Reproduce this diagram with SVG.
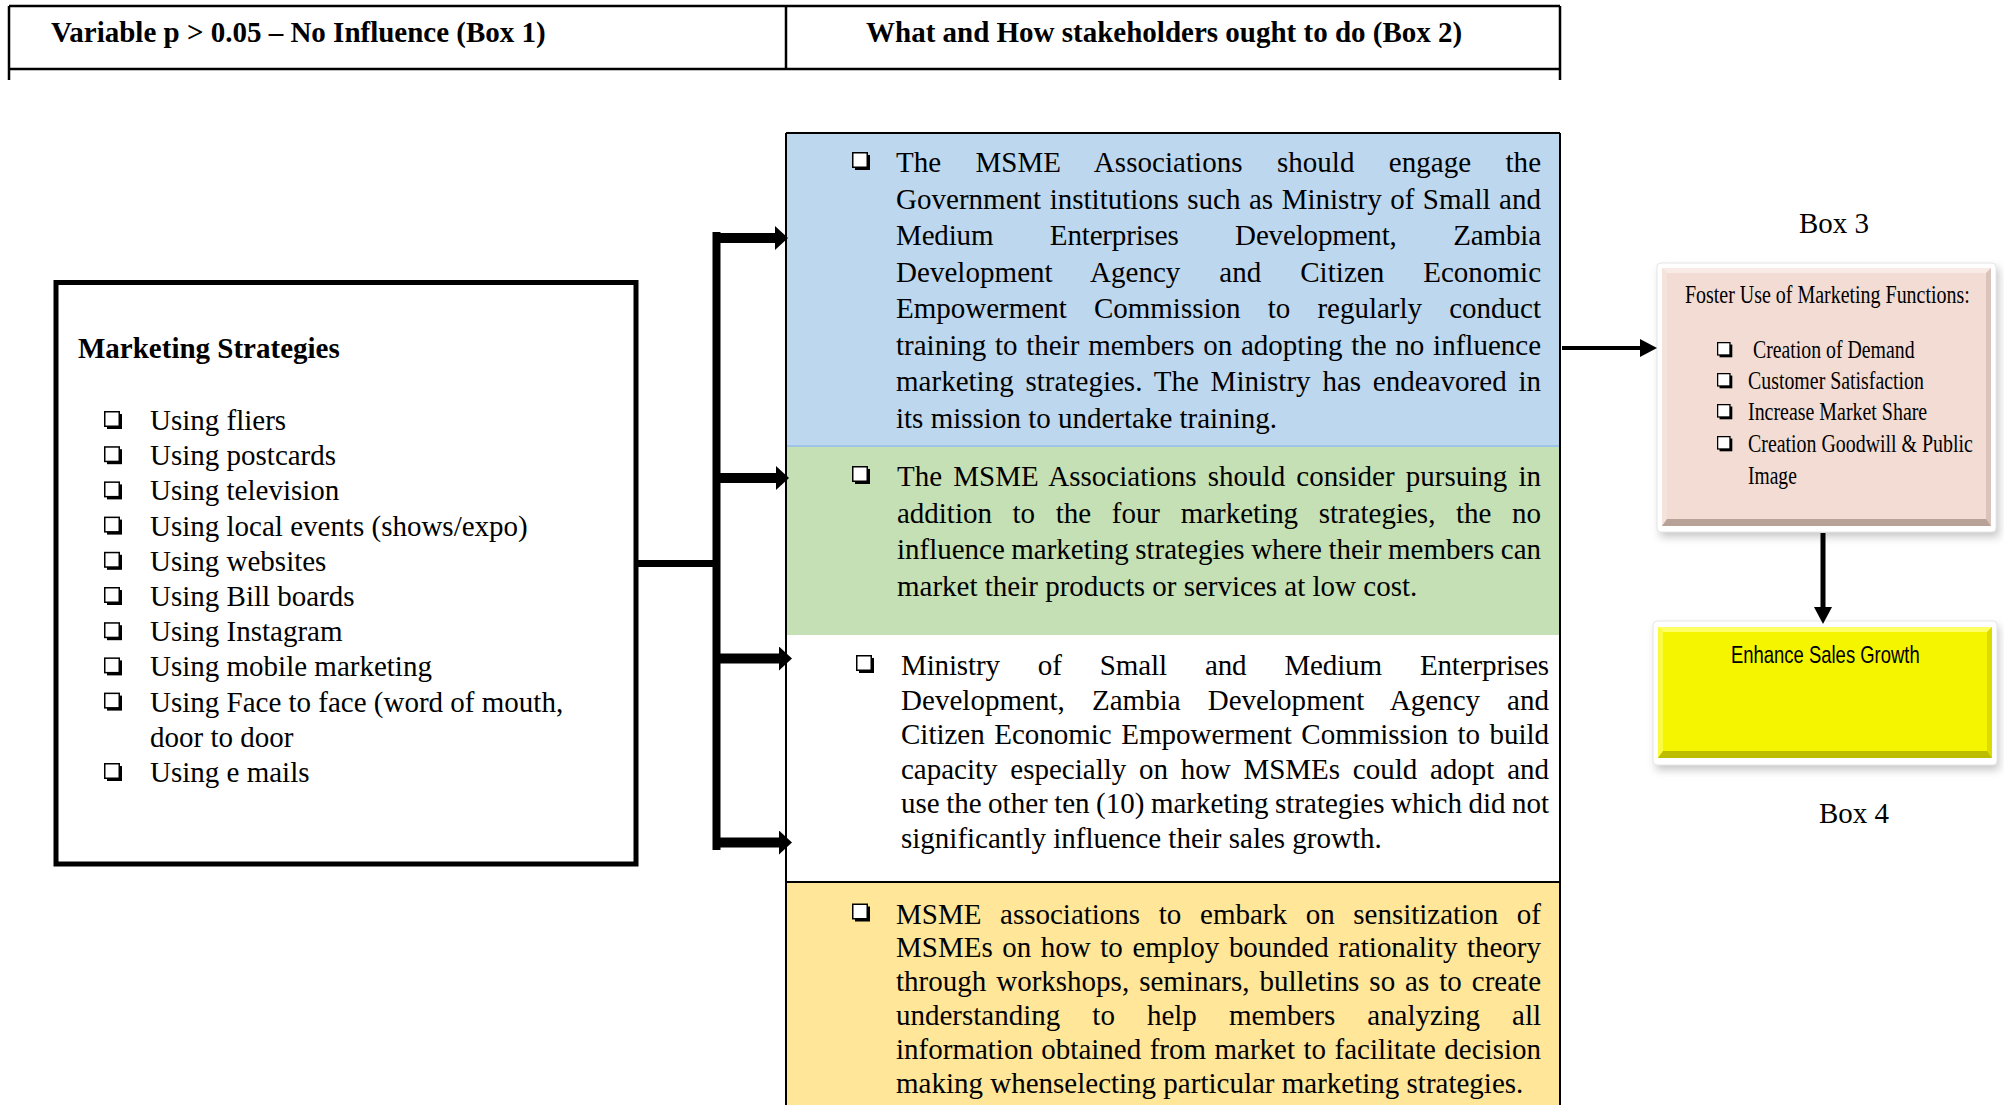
<svg xmlns="http://www.w3.org/2000/svg" xmlns:xlink="http://www.w3.org/1999/xlink" width="2004" height="1105" viewBox="0 0 2004 1105">
<defs>
<style>
.hdr{font-family:"Liberation Serif","Times New Roman",serif;font-weight:bold;font-size:29px;fill:#000}
.t{font-family:"Liberation Serif","Times New Roman",serif;font-size:29px;fill:#000}
.b3{font-family:"Liberation Serif","Times New Roman",serif;font-size:25px;fill:#000}
.b4{font-family:"Liberation Sans",Arial,sans-serif;font-size:24px;fill:#000}
.rule{stroke:#000;stroke-width:2.5;fill:none}
.edge{stroke:#000;stroke-width:2;fill:none}
.conn{stroke:#000;fill:none}
</style>
<g id="cb"><rect x="3" y="3" width="15" height="15" fill="#000"/><rect x="0.75" y="0.75" width="14.5" height="14.5" fill="#fff" stroke="#000" stroke-width="1.5"/></g>
<marker id="ahBig" markerUnits="userSpaceOnUse" markerWidth="14" markerHeight="24" refX="0" refY="12" orient="auto"><path d="M0,0 L13,12 L0,24 z" fill="#000"/></marker>
<marker id="ahSmall" markerUnits="userSpaceOnUse" markerWidth="18" markerHeight="18" refX="0" refY="9" orient="auto"><path d="M0,0 L17,9 L0,18 z" fill="#000"/></marker>
<filter id="shadow" x="-10%" y="-10%" width="130%" height="140%"><feGaussianBlur stdDeviation="4"/></filter>
</defs>
<rect width="2004" height="1105" fill="#fff"/>

<g id="header">
<path class="rule" d="M9,6 H1560 M9,69 H1560 M9,6 V80 M786,6 V69 M1560,6 V80"/>
<text class="hdr" x="51" y="42">Variable p &gt; 0.05 – No Influence (Box 1)</text>
<text class="hdr" x="866" y="42">What and How stakeholders ought to do (Box 2)</text>
</g>

<g id="box1">
<rect x="56" y="282.5" width="580" height="581.5" fill="#fff" stroke="#000" stroke-width="5"/>
<text class="hdr" x="78" y="358">Marketing Strategies</text>
<use xlink:href="#cb" x="104" y="411"/><text class="t" x="150" y="430">Using fliers</text>
<use xlink:href="#cb" x="104" y="446.2"/><text class="t" x="150" y="465.2">Using postcards</text>
<use xlink:href="#cb" x="104" y="481.4"/><text class="t" x="150" y="500.4">Using television</text>
<use xlink:href="#cb" x="104" y="516.6"/><text class="t" x="150" y="535.6">Using local events (shows/expo)</text>
<use xlink:href="#cb" x="104" y="551.8"/><text class="t" x="150" y="570.8">Using websites</text>
<use xlink:href="#cb" x="104" y="587"/><text class="t" x="150" y="606">Using Bill boards</text>
<use xlink:href="#cb" x="104" y="622.2"/><text class="t" x="150" y="641.2">Using Instagram</text>
<use xlink:href="#cb" x="104" y="657.4"/><text class="t" x="150" y="676.4">Using mobile marketing</text>
<use xlink:href="#cb" x="104" y="692.6"/><text class="t" x="150" y="711.6">Using Face to face (word of mouth,</text>
<text class="t" x="150" y="746.8">door to door</text>
<use xlink:href="#cb" x="104" y="763"/><text class="t" x="150" y="782">Using e mails</text>
</g>

<g id="box2-blue">
<rect x="786" y="133" width="774" height="313" fill="#BDD7EE"/>
<path class="edge" d="M786,133 H1560"/>
<path d="M786,446 H1560" stroke="#9DC3E6" stroke-width="2"/>
<use xlink:href="#cb" x="852" y="152"/>
<text class="t" x="896" y="172" word-spacing="27" textLength="645" lengthAdjust="spacing">The MSME Associations should engage the</text>
<text class="t" x="896" y="208.5" word-spacing="1.2" textLength="645" lengthAdjust="spacing">Government institutions such as Ministry of Small and</text>
<text class="t" x="896" y="245" word-spacing="49.4" textLength="645" lengthAdjust="spacing">Medium Enterprises Development, Zambia</text>
<text class="t" x="896" y="281.5" word-spacing="31.6" textLength="645" lengthAdjust="spacing">Development Agency and Citizen Economic</text>
<text class="t" x="896" y="318" word-spacing="19.9" textLength="645" lengthAdjust="spacing">Empowerment Commission to regularly conduct</text>
<text class="t" x="896" y="354.5" word-spacing="1.5" textLength="645" lengthAdjust="spacing">training to their members on adopting the no influence</text>
<text class="t" x="896" y="391" word-spacing="4.5" textLength="645" lengthAdjust="spacing">marketing strategies. The Ministry has endeavored in</text>
<text class="t" x="896" y="427.5">its mission to undertake training.</text>
</g>

<g id="box2-green">
<rect x="786" y="447" width="774" height="188" fill="#C5E0B4"/>
<use xlink:href="#cb" x="852" y="466"/>
<text class="t" x="897" y="486" word-spacing="3.85" textLength="644" lengthAdjust="spacing">The MSME Associations should consider pursuing in</text>
<text class="t" x="897" y="522.5" word-spacing="13.4" textLength="644" lengthAdjust="spacing">addition to the four marketing strategies, the no</text>
<text class="t" x="897" y="559" word-spacing="-0.7" textLength="644" lengthAdjust="spacing">influence marketing strategies where their members can</text>
<text class="t" x="897" y="595.5">market their products or services at low cost.</text>
</g>

<g id="box2-white">
<rect x="786" y="635" width="774" height="247" fill="#fff"/>
<use xlink:href="#cb" x="856" y="655"/>
<text class="t" x="901" y="675" word-spacing="31" textLength="648" lengthAdjust="spacing">Ministry of Small and Medium Enterprises</text>
<text class="t" x="901" y="709.5" word-spacing="19.7" textLength="648" lengthAdjust="spacing">Development, Zambia Development Agency and</text>
<text class="t" x="901" y="744" word-spacing="2.2" textLength="648" lengthAdjust="spacing">Citizen Economic Empowerment Commission to build</text>
<text class="t" x="901" y="778.5" word-spacing="5.5" textLength="648" lengthAdjust="spacing">capacity especially on how MSMEs could adopt and</text>
<text class="t" x="901" y="813" word-spacing="-0.75" textLength="648" lengthAdjust="spacing">use the other ten (10) marketing strategies which did not</text>
<text class="t" x="901" y="847.5">significantly influence their sales growth.</text>
</g>

<g id="box2-yellow">
<rect x="786" y="882" width="774" height="223" fill="#FFE699"/>
<path class="edge" d="M786,882 H1560"/>
<use xlink:href="#cb" x="852" y="903.5"/>
<text class="t" x="896" y="923.5" word-spacing="11.5" textLength="645" lengthAdjust="spacing">MSME associations to embark on sensitization of</text>
<text class="t" x="896" y="957.3" word-spacing="2.3" textLength="645" lengthAdjust="spacing">MSMEs on how to employ bounded rationality theory</text>
<text class="t" x="896" y="991.1" word-spacing="2.7" textLength="645" lengthAdjust="spacing">through workshops, seminars, bulletins so as to create</text>
<text class="t" x="896" y="1024.9" word-spacing="24.8" textLength="645" lengthAdjust="spacing">understanding to help members analyzing all</text>
<text class="t" x="896" y="1058.7" word-spacing="1.2" textLength="645" lengthAdjust="spacing">information obtained from market to facilitate decision</text>
<text class="t" x="896" y="1092.5">making whenselecting particular marketing strategies.</text>
</g>

<g id="box2-sides">
<path class="edge" d="M786,133 V1105 M1560,133 V1105"/>
</g>

<g id="box3">
<text class="t" x="1799" y="233">Box 3</text>
<rect x="1660" y="268" width="339" height="269" fill="#999" opacity="0.55" filter="url(#shadow)"/>
<rect x="1657" y="263" width="339" height="269" rx="4" fill="#fff" stroke="#e6e6e6" stroke-width="1"/>
<rect x="1662" y="268" width="329" height="258" fill="#F2DCD3"/>
<polygon points="1662,268 1991,268 1986,273 1667,273" fill="#F8EBE5"/>
<polygon points="1662,268 1667,273 1667,520 1662,526" fill="#F5E3DB"/>
<polygon points="1991,268 1991,526 1986,520 1986,273" fill="#D9C3BA"/>
<polygon points="1662,526 1991,526 1986,519 1667,519" fill="#B8A197"/>
<text class="b3" transform="translate(1685,303) scale(0.8,1)" textLength="356" lengthAdjust="spacingAndGlyphs">Foster Use of Marketing Functions:</text>
<use xlink:href="#cb" transform="translate(1717,342) scale(0.85)"/>
<text class="b3" transform="translate(1753,358) scale(0.8,1)" textLength="202" lengthAdjust="spacingAndGlyphs">Creation of Demand</text>
<use xlink:href="#cb" transform="translate(1717,373) scale(0.85)"/>
<text class="b3" transform="translate(1748,389) scale(0.8,1)" textLength="220" lengthAdjust="spacingAndGlyphs">Customer Satisfaction</text>
<use xlink:href="#cb" transform="translate(1717,404) scale(0.85)"/>
<text class="b3" transform="translate(1748,420) scale(0.8,1)" textLength="224" lengthAdjust="spacingAndGlyphs">Increase Market Share</text>
<use xlink:href="#cb" transform="translate(1717,436) scale(0.85)"/>
<text class="b3" transform="translate(1748,452) scale(0.8,1)" textLength="281" lengthAdjust="spacingAndGlyphs">Creation Goodwill &amp; Public</text>
<text class="b3" transform="translate(1748,484) scale(0.8,1)" textLength="61" lengthAdjust="spacingAndGlyphs">Image</text>
</g>

<g id="box4">
<rect x="1656" y="626" width="343" height="144" fill="#999" opacity="0.55" filter="url(#shadow)"/>
<rect x="1653" y="621" width="344" height="144" rx="4" fill="#fff" stroke="#e6e6e6" stroke-width="1"/>
<rect x="1658" y="627" width="334" height="131" fill="#F5F500"/>
<polygon points="1658,627 1992,627 1987,632 1663,632" fill="#FFFF66"/>
<polygon points="1658,627 1663,632 1663,752 1658,758" fill="#FAFA40"/>
<polygon points="1992,627 1992,758 1987,752 1987,632" fill="#DCDC00"/>
<polygon points="1658,758 1992,758 1987,751 1663,751" fill="#BDBD00"/>
<text class="b4" transform="translate(1731,663) scale(0.85,1)" textLength="222" lengthAdjust="spacingAndGlyphs">Enhance Sales Growth</text>
<text class="t" x="1819" y="823">Box 4</text>
</g>

<g id="connectors">
<line class="conn" x1="636" y1="563.5" x2="717" y2="563.5" stroke-width="7"/>
<line class="conn" x1="716.5" y1="232" x2="716.5" y2="850" stroke-width="8"/>
<line class="conn" x1="713" y1="238" x2="775" y2="238" stroke-width="10" marker-end="url(#ahBig)"/>
<line class="conn" x1="713" y1="478" x2="776" y2="478" stroke-width="10" marker-end="url(#ahBig)"/>
<line class="conn" x1="713" y1="658.5" x2="779" y2="658.5" stroke-width="10" marker-end="url(#ahBig)"/>
<line class="conn" x1="713" y1="842.5" x2="779" y2="842.5" stroke-width="10" marker-end="url(#ahBig)"/>
<line class="conn" x1="1562" y1="348" x2="1640" y2="348" stroke-width="4" marker-end="url(#ahSmall)"/>
<line class="conn" x1="1823" y1="533" x2="1823" y2="607" stroke-width="5" marker-end="url(#ahSmall)"/>
</g>
</svg>
